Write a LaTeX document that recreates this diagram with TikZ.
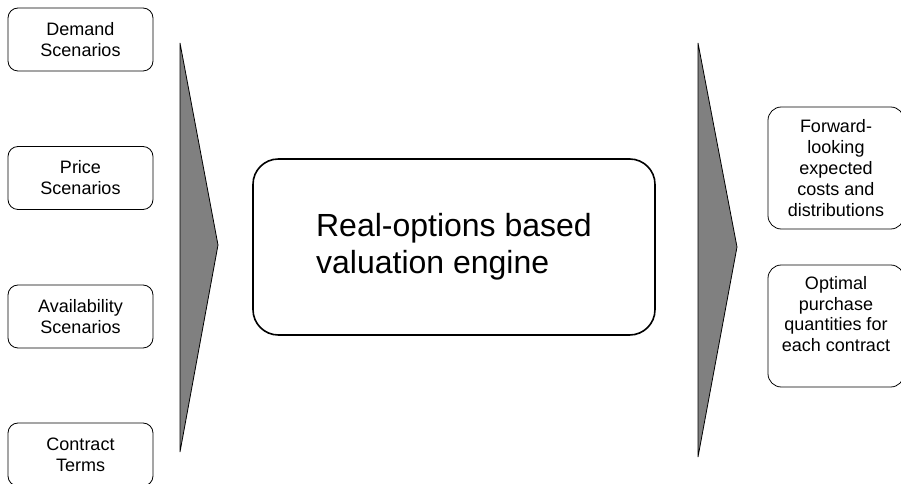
\documentclass[tikz,border=0pt]{standalone}
\usepackage{fontspec}
\setmainfont{Liberation Sans}
\usetikzlibrary{calc}
\tikzstyle{inbox}=[draw=black, line width=0.6pt, rounded corners=7.5pt, minimum width=108.75pt, minimum height=47.25pt, align=center, inner sep=0pt, font=\fontsize{13.5}{15.8}\selectfont]
\tikzstyle{outbox}=[draw=black, line width=0.6pt, rounded corners=10pt, minimum width=102pt, minimum height=91.5pt, align=center, inner sep=0pt, font=\fontsize{13.5}{15.6}\selectfont]
\tikzstyle{engine}=[draw=black, line width=1.2pt, rounded corners=19pt, minimum width=301.5pt, minimum height=132pt, align=left, inner sep=0pt, font=\fontsize{24}{27.8}\selectfont]
\tikzstyle{flow}=[draw=black, line width=0.6pt, fill=gray]

\begin{document}
\begin{tikzpicture}[x=0.75pt, y=-0.75pt]
    \useasboundingbox (0,0) rectangle (901,484);

    %inputs
    \foreach \n/\y/\t in {dem/39.5/{Demand\\Scenarios}, pri/178/{Price\\Scenarios}, ava/316.5/{Availability\\Scenarios}, con/454.5/{Contract\\Terms}} {
    \node (\n) at (80.5,\y) [inbox] {\t};
    }

    %arrows
    \filldraw[flow] (180,43) -- (218,245) -- (180,452) -- cycle;
    \filldraw[flow] (698,43) -- (737,247) -- (698,457) -- cycle;

    %engine
    \node (eng) at (454,247) [engine] {Real-options based\\valuation engine};

    %outputs
    \node (cost) at (836,168) [outbox] {Forward-\\looking\\expected\\costs and\\distributions};
    \node (qty) at (836,326) [outbox, text depth=18pt] {Optimal\\purchase\\quantities for\\each contract};

\end{tikzpicture}
\end{document}
